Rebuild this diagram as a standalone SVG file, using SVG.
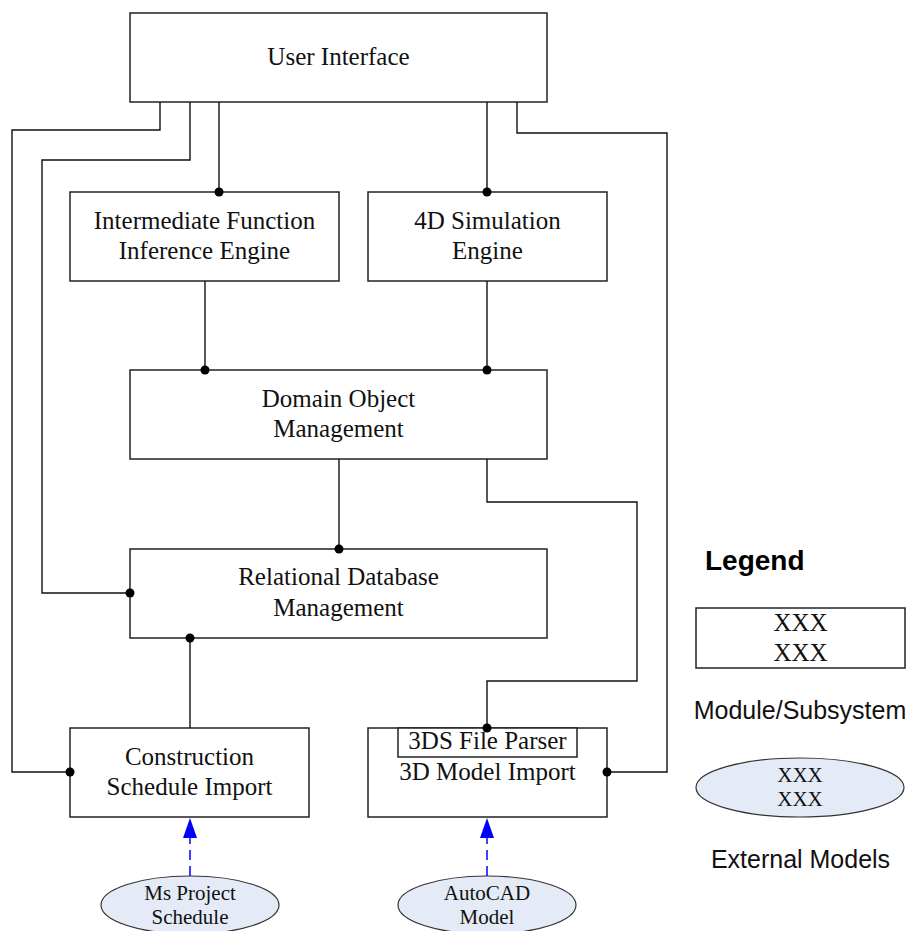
<svg xmlns="http://www.w3.org/2000/svg" width="909" height="931" viewBox="0 0 909 931">
  <style>
    .box { fill: #ffffff; stroke: #222222; stroke-width: 1.5; }
    .ext { fill: #e4ebf6; stroke: #333333; stroke-width: 1.2; }
    .wire { fill: none; stroke: #111111; stroke-width: 1.4; }
    .dot { fill: #000000; }
    .flow { fill: none; stroke: #0000ff; stroke-width: 1.5; stroke-dasharray: 10 6; }
    .head { fill: #0000ff; }
    .t { font-family: "Liberation Serif", "Times New Roman", serif; font-size: 25px; fill: #111111; text-anchor: middle; }
    .ts { font-family: "Liberation Serif", "Times New Roman", serif; font-size: 21px; fill: #111111; text-anchor: middle; }
    .ta { font-family: "Liberation Sans", Arial, sans-serif; font-size: 25px; fill: #111111; text-anchor: middle; }
    .tl { font-family: "Liberation Sans", Arial, sans-serif; font-size: 28px; font-weight: bold; fill: #000000; }
  </style>
  <rect width="909" height="931" fill="#ffffff"/>

  <g id="user-interface">
    <rect class="box" x="130" y="13" width="417" height="89"/>
    <text class="t" x="338.5" y="65">User Interface</text>
  </g>

  <g id="inference-engine">
    <rect class="box" x="70" y="192" width="269" height="89"/>
    <text class="t" x="204.5" y="229">Intermediate Function</text>
    <text class="t" x="204.5" y="259">Inference Engine</text>
  </g>

  <g id="simulation-engine">
    <rect class="box" x="368" y="192" width="239" height="89"/>
    <text class="t" x="487.5" y="229">4D Simulation</text>
    <text class="t" x="487.5" y="259">Engine</text>
  </g>

  <g id="domain-object-management">
    <rect class="box" x="130" y="370" width="417" height="89"/>
    <text class="t" x="338.5" y="407">Domain Object</text>
    <text class="t" x="338.5" y="437">Management</text>
  </g>

  <g id="relational-database-management">
    <rect class="box" x="130" y="549" width="417" height="89"/>
    <text class="t" x="338.5" y="585">Relational Database</text>
    <text class="t" x="338.5" y="616">Management</text>
  </g>

  <g id="schedule-import">
    <rect class="box" x="70" y="728" width="239" height="89"/>
    <text class="t" x="189.5" y="765">Construction</text>
    <text class="t" x="189.5" y="795">Schedule Import</text>
  </g>

  <g id="model-import">
    <rect class="box" x="368" y="728" width="239" height="89"/>
    <rect class="box" x="398" y="728" width="179" height="29"/>
    <text class="t" x="487.5" y="749">3DS File Parser</text>
    <text class="t" x="487.5" y="780">3D Model Import</text>
  </g>

  <g id="ms-project-schedule">
    <ellipse class="ext" cx="190" cy="905" rx="89" ry="29"/>
    <text class="ts" x="190" y="900">Ms Project</text>
    <text class="ts" x="190" y="924">Schedule</text>
  </g>

  <g id="autocad-model">
    <ellipse class="ext" cx="487" cy="905" rx="89" ry="29"/>
    <text class="ts" x="487" y="900">AutoCAD</text>
    <text class="ts" x="487" y="924">Model</text>
  </g>

  <!-- connectors, drawn over the boxes so the junction dots stay whole -->
  <g id="connectors">
    <!-- UI to Construction Schedule Import (outer left loop) -->
    <polyline class="wire" points="160,102 160,130 12,130 12,772 70,772"/>
    <!-- UI to Relational Database Management -->
    <polyline class="wire" points="190,102 190,160 42,160 42,593 130,593"/>
    <!-- UI to Intermediate Function Inference Engine -->
    <line class="wire" x1="219" y1="102" x2="219" y2="192"/>
    <!-- UI to 4D Simulation Engine -->
    <line class="wire" x1="487" y1="102" x2="487" y2="192"/>
    <!-- UI to 3D Model Import (outer right loop) -->
    <polyline class="wire" points="517,102 517,133 667,133 667,772 607,772"/>
    <!-- Engines to Domain Object Management -->
    <line class="wire" x1="205" y1="281" x2="205" y2="370"/>
    <line class="wire" x1="487" y1="281" x2="487" y2="370"/>
    <!-- Domain Object Management to Relational Database Management -->
    <line class="wire" x1="339" y1="459" x2="339" y2="549"/>
    <!-- Domain Object Management to 3DS File Parser -->
    <polyline class="wire" points="487,459 487,502 637,502 637,681 487,681 487,728"/>
    <!-- Relational Database Management to Construction Schedule Import -->
    <line class="wire" x1="190" y1="638" x2="190" y2="728"/>

    <!-- junction dots -->
    <circle class="dot" cx="70" cy="772" r="4.5"/>
    <circle class="dot" cx="130" cy="593" r="4.5"/>
    <circle class="dot" cx="219" cy="192" r="4.5"/>
    <circle class="dot" cx="487" cy="192" r="4.5"/>
    <circle class="dot" cx="607" cy="772" r="4.5"/>
    <circle class="dot" cx="205" cy="370" r="4.5"/>
    <circle class="dot" cx="487" cy="370" r="4.5"/>
    <circle class="dot" cx="339" cy="549" r="4.5"/>
    <circle class="dot" cx="487" cy="728" r="4.5"/>
    <circle class="dot" cx="190" cy="638" r="4.5"/>

    <!-- external model inputs -->
    <line class="flow" x1="190" y1="876" x2="190" y2="836"/>
    <polygon class="head" points="190,818 183,838 197,838"/>
    <line class="flow" x1="487" y1="876" x2="487" y2="836"/>
    <polygon class="head" points="487,818 480,838 494,838"/>
  </g>

  <!-- legend -->
  <g id="legend">
    <text class="tl" x="705" y="570">Legend</text>
    <rect class="box" x="696" y="608" width="209" height="60"/>
    <text class="t" x="800.5" y="631">XXX</text>
    <text class="t" x="800.5" y="661">XXX</text>
    <text class="ta" x="800" y="719">Module/Subsystem</text>
    <ellipse class="ext" cx="800" cy="787.5" rx="104" ry="29.5"/>
    <text class="ts" x="800" y="782">XXX</text>
    <text class="ts" x="800" y="806">XXX</text>
    <text class="ta" x="800.5" y="868">External Models</text>
  </g>
</svg>
